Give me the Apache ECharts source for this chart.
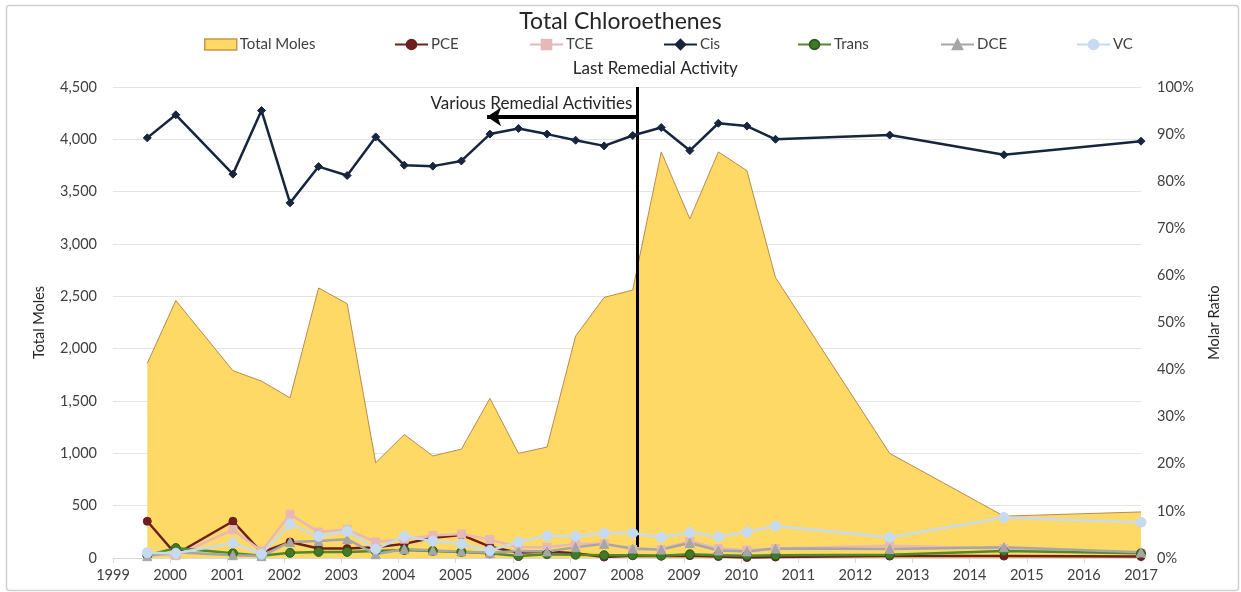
<!DOCTYPE html>
<html>
<head>
<meta charset="utf-8">
<script src="https://cdn.jsdelivr.net/npm/echarts@6/dist/echarts.min.js"></script>
<style>
html,body{margin:0;padding:0;background:#fff;}
#main{width:1241px;height:592px;}
</style>
</head>
<body>
<div id="main"></div>
<script>
// ---- data ----
var dates = [1999.6, 2000.1, 2001.1, 2001.6, 2002.1, 2002.6, 2003.1, 2003.6, 2004.1, 2004.6, 2005.1, 2005.6, 2006.1, 2006.6, 2007.1, 2007.6, 2008.1, 2008.6, 2009.1, 2009.6, 2010.1, 2010.6, 2012.6, 2014.6, 2017.0];
var totalMoles = [1860, 2460, 1790, 1690, 1530, 2580, 2430, 910, 1180, 975, 1040, 1525, 1000, 1060, 2120, 2490, 2560, 3880, 3240, 3880, 3700, 2680, 1000, 400, 440];
var pce   = [7.8, 0.8, 7.8, 1.2, 3.4, 2.0, 2.0, 2.3, 3.0, 4.3, 4.9, 2.4, 1.1, 1.4, 1.0, 0.2, 0.5, 0.4, 0.5, 0.3, 0.1, 0.2, 0.4, 0.4, 0.3];
var tce   = [1.0, 0.5, 6.0, 1.5, 9.3, 5.5, 6.1, 3.4, 4.0, 4.8, 5.1, 3.9, 2.3, 2.3, 3.0, 3.0, 1.8, 1.8, 3.6, 2.0, 1.7, 2.0, 2.6, 2.0, 1.0];
var cis   = [89.2, 94.1, 81.5, 95.0, 75.4, 83.1, 81.2, 89.4, 83.4, 83.2, 84.3, 90.0, 91.2, 90.0, 88.7, 87.5, 89.7, 91.4, 86.5, 92.3, 91.7, 88.9, 89.8, 85.6, 88.5];
var trans = [0.6, 2.1, 1.0, 0.5, 1.1, 1.3, 1.3, 1.5, 1.7, 1.5, 1.3, 1.0, 0.4, 0.8, 0.7, 0.6, 0.6, 0.5, 0.8, 0.6, 0.5, 0.6, 0.7, 1.5, 1.0];
var dce   = [0.4, 1.2, 0.6, 0.4, 3.4, 3.6, 4.0, 0.8, 1.9, 1.6, 1.4, 1.1, 1.5, 1.4, 2.3, 3.0, 2.0, 1.8, 3.2, 1.6, 1.4, 2.0, 1.9, 2.3, 1.2];
var vc    = [1.1, 1.0, 3.2, 0.8, 7.2, 4.6, 5.7, 1.9, 4.6, 3.6, 3.0, 1.6, 3.4, 4.7, 4.6, 5.3, 5.3, 4.4, 5.4, 4.5, 5.5, 6.8, 4.4, 8.6, 7.6];
var xTicks = {min: 1999, max: 2017, step: 1};
var leftTicks = {min: 0, max: 4500, step: 500};
var rightTicks = {min: 0, max: 100, step: 10};
var lastRemedial = 2008.18;
var lastRemedialSpan = [4500, 105];
var arrowStart = 2005.55;
var arrowLevel = 4215;

function pairs(vals){ return dates.map(function(d,i){ return [d, vals[i]]; }); }

var FONT = 'Lato';
var chart = echarts.init(document.getElementById('main'), null, {renderer:'canvas'});

function lineSeries(name, vals, color, symbol, size, extra){
  var s = {
    name: name, type: 'line', yAxisIndex: 1, data: pairs(vals),
    symbol: symbol, symbolSize: size, showSymbol: true,
    lineStyle: {color: color, width: 2.5},
    itemStyle: {color: color, borderColor: color, borderWidth: 1},
    emphasis: {disabled: true}, animation: false
  };
  if (extra) { for (var k in extra) s[k] = extra[k]; }
  return s;
}

var legendNames = ['Total Moles','PCE','TCE','Cis','Trans','DCE','VC'];
var legendLeft = [199, 389, 524, 658, 792, 935, 1071];
var legends = legendNames.map(function(n, i){
  var isArea = n === 'Total Moles';
  return {
    data: [isArea ? {name: n, icon: 'rect', itemStyle: {color: '#FFD966', borderColor: '#C9964E', borderWidth: 1.5}} : n],
    left: legendLeft[i], top: 32,
    itemWidth: isArea ? 32 : 33, itemHeight: isArea ? 11 : 12,
    itemGap: 4,
    textStyle: {fontFamily: FONT, fontSize: 15, color: '#404040', padding: [0,0,0,-2]},
    selectedMode: false
  };
});

var option = {
  animation: false,
  textStyle: {fontFamily: FONT},
  title: {
    text: 'Total Chloroethenes', left: 'center', top: 5,
    textStyle: {fontFamily: FONT, fontSize: 23, fontWeight: 'normal', color: '#262626'}
  },
  legend: legends,
  grid: {left: 113, right: 100, top: 87, bottom: 34, containLabel: false},
  xAxis: {
    type: 'value', min: xTicks.min, max: xTicks.max, interval: xTicks.step,
    axisLine: {show: true, lineStyle: {color: '#D9D9D9', width: 1}},
    axisTick: {show: true, length: 5, lineStyle: {color: '#D9D9D9'}},
    axisLabel: {fontFamily: FONT, fontSize: 14.5, color: '#404040', margin: 10,
      formatter: function(v){ return String(Math.round(v)); }},
    splitLine: {show: false}
  },
  yAxis: [{
    type: 'value', min: leftTicks.min, max: leftTicks.max, interval: leftTicks.step,
    name: 'Total Moles', nameLocation: 'middle', nameGap: 66, nameRotate: 90,
    nameTextStyle: {fontFamily: FONT, fontSize: 14.5, color: '#262626'},
    axisLine: {show: false}, axisTick: {show: false},
    axisLabel: {fontFamily: FONT, fontSize: 14.5, color: '#404040', margin: 16,
      formatter: function(v){ return v.toLocaleString('en-US'); }},
    splitLine: {show: true, lineStyle: {color: '#E4E4E4', width: 1}}
  },{
    type: 'value', min: rightTicks.min, max: rightTicks.max, interval: rightTicks.step,
    name: 'Molar Ratio', nameLocation: 'middle', nameGap: 66, nameRotate: 90,
    nameTextStyle: {fontFamily: FONT, fontSize: 14.5, color: '#262626'},
    axisLine: {show: false}, axisTick: {show: false},
    axisLabel: {fontFamily: FONT, fontSize: 14.5, color: '#404040', margin: 16,
      formatter: '{value}%'},
    splitLine: {show: false}
  }],
  graphic: [{
    type: 'rect', left: 4, top: 3, silent: true,
    shape: {width: 1232, height: 585, r: 3},
    style: {fill: 'none', stroke: '#D0D0D0', lineWidth: 1.5}
  }],
  series: [
    {
      name: 'Total Moles', type: 'line', yAxisIndex: 0, data: pairs(totalMoles),
      symbol: 'none', showSymbol: false,
      lineStyle: {color: '#B98A4E', width: 1},
      itemStyle: {color: '#FFD966', borderColor: '#B98A4E', borderWidth: 1},
      areaStyle: {color: '#FFD966', opacity: 1},
      emphasis: {disabled: true}, z: 1,
      markLine: {
        silent: true, animation: false, z: 3,
        symbol: ['none', 'none'],
        data: [
          [
            {coord: [lastRemedial, lastRemedialSpan[0]],
              lineStyle: {color: '#000', width: 3, type: 'solid'},
              label: {show: true, position: 'start', formatter: 'Last Remedial Activity',
                fontFamily: FONT, fontSize: 17, color: '#262626', distance: 10,
                padding: [0, 0, 0, 36]}},
            {coord: [lastRemedial, lastRemedialSpan[1]]}
          ],
          [
            {coord: [arrowStart, arrowLevel], symbol: 'arrow', symbolSize: [14, 14],
              lineStyle: {color: '#000', width: 4, type: 'solid'},
              label: {show: true, position: 'insideEndTop', formatter: 'Various Remedial Activities',
                fontFamily: FONT, fontSize: 17, color: '#262626', distance: 5}},
            {coord: [lastRemedial, arrowLevel], symbol: 'none'}
          ]
        ]
      }
    },
    lineSeries('PCE', pce, '#6E1E1E', 'circle', 8),
    lineSeries('TCE', tce, '#E6B9B8', 'rect', 8),
    lineSeries('Cis', cis, '#17253F', 'diamond', 8),
    lineSeries('Trans', trans, '#4E8B2E', 'circle', 9, {
      itemStyle: {color: '#3F7B27', borderColor: '#2E5E1C', borderWidth: 1}
    }),
    lineSeries('DCE', dce, '#A6A6A6', 'triangle', 9),
    lineSeries('VC', vc, '#C6DAF0', 'circle', 10)
  ]
};
chart.setOption(option);
</script>
</body>
</html>
